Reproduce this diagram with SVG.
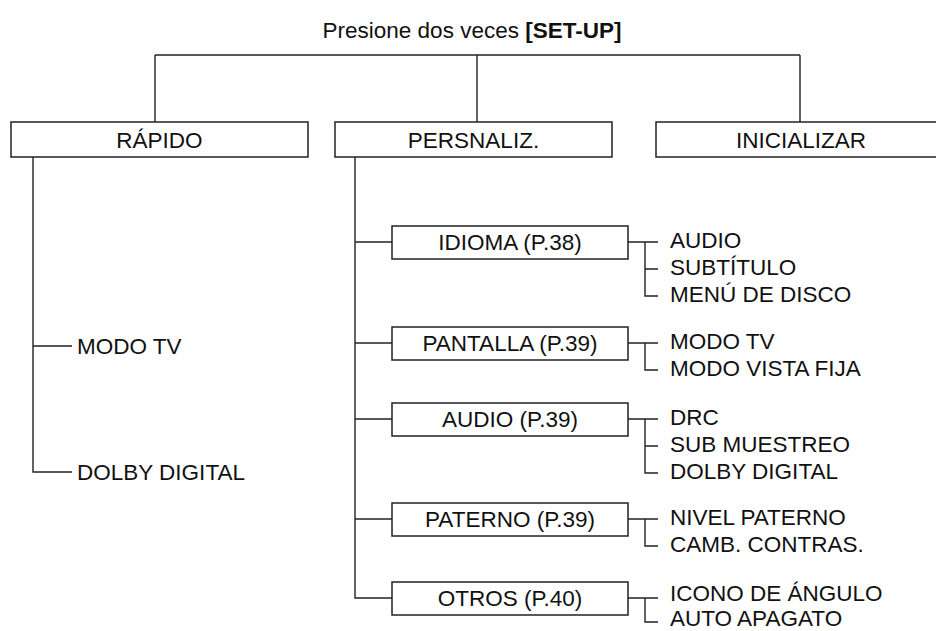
<svg xmlns="http://www.w3.org/2000/svg" width="936" height="631" viewBox="0 0 936 631">
<style>
  text { font-family: "Liberation Sans", Arial, sans-serif; font-size: 22.5px; fill: #111; }
  .c { text-anchor: middle; }
  .box { fill: #fff; stroke: #222; stroke-width: 1.5; }
  .ln { fill: none; stroke: #222; stroke-width: 1.4; }
</style>
<rect width="936" height="631" fill="#fff"/>

<text id="title" class="c" x="472" y="38">Presione dos veces <tspan font-weight="bold">[SET-UP]</tspan></text>

<g id="connectors" class="ln">
  <path d="M155,55 H800 M155,55 V122 M477,55 V122 M800,55 V122"/>
  <path d="M33,157 V472 H72 M33,346 H72"/>
  <path d="M355,157 V598 H392 M355,242 H392 M355,343 H392 M355,419 H392 M355,519 H392"/>
  <path d="M628,242 H658 M645,242 V296 H658 M645,269 H658"/>
  <path d="M628,343 H658 M645,343 V370 H658"/>
  <path d="M628,419 H658 M645,419 V473 H658 M645,446 H658"/>
  <path d="M628,519 H658 M645,519 V546 H658"/>
  <path d="M628,598 H658 M645,598 V622 H658"/>
</g>

<g id="rapido">
  <rect class="box" x="11" y="122" width="297" height="35"/>
  <text class="c" x="159.5" y="148">RÁPIDO</text>
</g>
<g id="persnaliz">
  <rect class="box" x="335" y="122" width="277" height="35"/>
  <text class="c" x="473.5" y="148">PERSNALIZ.</text>
</g>
<g id="inicializar">
  <rect class="box" x="656" y="122" width="282" height="35"/>
  <text class="c" x="801" y="148">INICIALIZAR</text>
</g>

<g id="rapido-items">
  <text x="77" y="354">MODO TV</text>
  <text x="77" y="480">DOLBY DIGITAL</text>
</g>

<g id="idioma">
  <rect class="box" x="392" y="226" width="236" height="33"/>
  <text class="c" x="510" y="250">IDIOMA (P.38)</text>
</g>
<g id="pantalla">
  <rect class="box" x="392" y="327" width="236" height="33"/>
  <text class="c" x="510" y="351">PANTALLA (P.39)</text>
</g>
<g id="audio">
  <rect class="box" x="392" y="403" width="236" height="33"/>
  <text class="c" x="510" y="427">AUDIO (P.39)</text>
</g>
<g id="paterno">
  <rect class="box" x="392" y="503" width="236" height="33"/>
  <text class="c" x="510" y="527">PATERNO (P.39)</text>
</g>
<g id="otros">
  <rect class="box" x="392" y="582" width="236" height="33"/>
  <text class="c" x="510" y="606">OTROS (P.40)</text>
</g>

<g id="idioma-items">
  <text x="670" y="248">AUDIO</text>
  <text x="670" y="275">SUBTÍTULO</text>
  <text x="670" y="302">MENÚ DE DISCO</text>
</g>
<g id="pantalla-items">
  <text x="670" y="349">MODO TV</text>
  <text x="670" y="376">MODO VISTA FIJA</text>
</g>
<g id="audio-items">
  <text x="670" y="425">DRC</text>
  <text x="670" y="452">SUB MUESTREO</text>
  <text x="670" y="479">DOLBY DIGITAL</text>
</g>
<g id="paterno-items">
  <text x="670" y="525">NIVEL PATERNO</text>
  <text x="670" y="552">CAMB. CONTRAS.</text>
</g>
<g id="otros-items">
  <text x="670" y="601">ICONO DE ÁNGULO</text>
  <text x="670" y="626">AUTO APAGATO</text>
</g>
</svg>
